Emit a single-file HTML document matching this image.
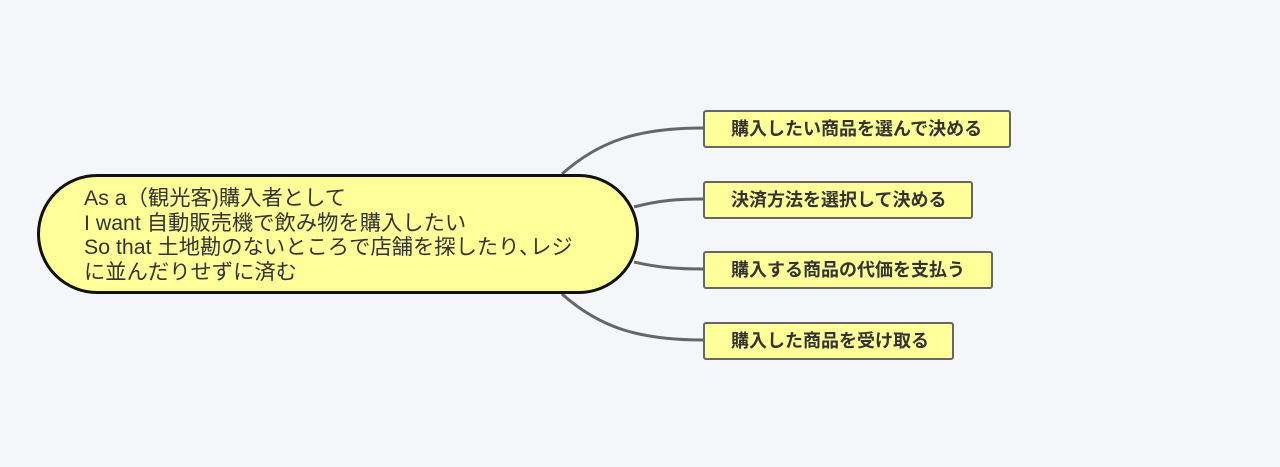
<!DOCTYPE html>
<html><head><meta charset="utf-8"><style>
body{margin:0;width:1280px;height:467px;background:#f4f6fa;position:relative;overflow:hidden;font-family:"Liberation Sans","Noto Sans CJK JP",sans-serif;}
.c{position:absolute;left:37px;top:174px;width:596px;height:114px;border:3px solid #111;border-radius:60px;background:#ffff99;}
.ct{position:absolute;left:84px;top:186px;font-size:21.3px;line-height:24.7px;color:#333;white-space:nowrap;}
.b{position:absolute;height:34px;border:2px solid #666;border-radius:3px;background:#ffff99;font-size:18px;color:#333;line-height:34px;padding-left:26px;box-sizing:content-box;white-space:nowrap;font-weight:bold;}
</style></head><body>
<svg width="1280" height="467" style="position:absolute;left:0;top:0">
<g fill="none" stroke="#666" stroke-width="3">
<path d="M562 174 C600 140 640 128 703 128"/>
<path d="M634 207 C660 200 680 199 703 199"/>
<path d="M634 262 C660 268 680 269 703 269"/>
<path d="M562 294 C600 328 640 340 703 340"/>
</g></svg>
<div class="c"></div>
<div class="ct">As a（観光客)購入者として<br>I want 自動販売機で飲み物を購入したい<br>So that 土地勘のないところで店舗を探したり､レジ<br>に並んだりせずに済む</div>
<div class="b" style="left:703px;top:110px;width:278px">購入したい商品を選んで決める</div>
<div class="b" style="left:703px;top:181px;width:240px">決済方法を選択して決める</div>
<div class="b" style="left:703px;top:251px;width:260px">購入する商品の代価を支払う</div>
<div class="b" style="left:703px;top:322px;width:221px">購入した商品を受け取る</div>
</body></html>
